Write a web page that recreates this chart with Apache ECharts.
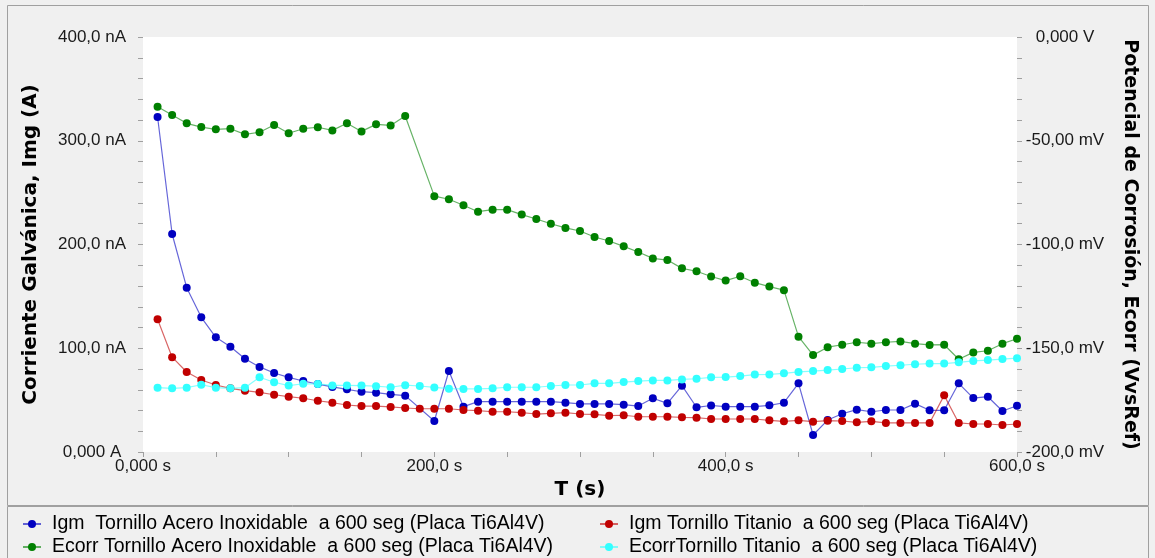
<!DOCTYPE html>
<html>
<head>
<meta charset="utf-8">
<script src="https://cdn.jsdelivr.net/npm/echarts@6/dist/echarts.min.js"></script>
<style>
  html, body { margin: 0; padding: 0; background: #f0f0f0; }
  #chart { width: 1155px; height: 558px; }
</style>
</head>
<body>
<div id="chart"></div>
<script>
// tiempos (s); las series de acero no tienen el punto de 190 s
var tAcero = [10, 20, 30, 40, 50, 60, 70, 80, 90, 100, 110, 120, 130, 140, 150, 160, 170, 180,
  200, 210, 220, 230, 240, 250, 260, 270, 280, 290, 300, 310, 320, 330, 340, 350, 360, 370, 380, 390,
  400, 410, 420, 430, 440, 450, 460, 470, 480, 490, 500, 510, 520, 530, 540, 550, 560, 570, 580, 590, 600];
var tTitanio = [10, 20, 30, 40, 50, 60, 70, 80, 90, 100, 110, 120, 130, 140, 150, 160, 170, 180, 190,
  200, 210, 220, 230, 240, 250, 260, 270, 280, 290, 300, 310, 320, 330, 340, 350, 360, 370, 380, 390,
  400, 410, 420, 430, 440, 450, 460, 470, 480, 490, 500, 510, 520, 530, 540, 550, 560, 570, 580, 590, 600];

// Igm (nA)
var igmAcero = [322.9, 210.1, 158.4, 129.8, 110.5, 101.5, 89.8, 82.0, 76.1, 72.0, 68.4, 65.5, 62.7, 60.4, 58.1, 57.2, 55.6, 54.3,
  29.9, 78.1, 43.7, 48.5, 48.5, 48.5, 48.5, 48.5, 48.5, 47.5, 46.3, 46.3, 46.3, 45.6, 44.3, 51.8, 46.9, 63.9, 43.1, 44.8,
  43.7, 43.7, 43.7, 45.0, 47.5, 66.2, 16.4, 30.8, 36.9, 40.8, 38.8, 40.5, 40.5, 46.6, 40.2, 40.2, 66.2, 52.0, 53.3, 39.5, 44.6];
var igmTitanio = [128.0, 91.4, 77.1, 69.4, 64.6, 61.4, 59.1, 57.5, 55.2, 53.3, 51.8, 49.4, 47.5, 45.3, 44.3, 44.3, 43.4, 42.4, 41.7,
  41.7, 41.7, 40.5, 39.8, 38.8, 38.8, 37.9, 36.6, 37.3, 37.9, 36.6, 36.3, 35.0, 35.4, 34.0, 34.0, 34.0, 33.4, 33.1, 31.8,
  31.8, 31.8, 31.8, 30.5, 29.6, 30.5, 29.2, 30.2, 29.9, 28.6, 29.6, 28.0, 28.0, 28.0, 28.0, 54.6, 28.0, 27.0, 27.0, 26.0, 27.0];

// Ecorr (mV)
var ecorrAcero = [-33.6, -37.6, -41.6, -43.4, -44.5, -44.2, -46.9, -45.9, -42.4, -46.4, -44.2, -43.5, -45.0, -41.6, -45.5, -42.1, -42.6, -38.1,
  -76.7, -78.2, -81.1, -84.2, -83.2, -83.2, -85.6, -87.7, -90.0, -92.0, -93.5, -96.4, -98.3, -100.9, -103.6, -106.7, -107.5, -111.5, -112.9, -115.4,
  -117.4, -115.3, -118.4, -120.3, -122.0, -144.4, -153.3, -149.5, -148.3, -147.1, -147.8, -147.1, -146.7, -147.8, -148.4, -148.3, -155.3, -152.0, -151.2, -147.8, -145.4];
var ecorrTitanio = [-169.0, -169.3, -169.0, -167.6, -169.0, -169.3, -169.0, -164.0, -166.4, -168.0, -167.1, -167.2, -167.9, -167.9, -168.0, -168.3, -168.8, -167.8, -168.2,
  -168.9, -169.5, -169.6, -169.6, -169.3, -168.8, -168.8, -168.8, -168.2, -167.7, -167.7, -166.9, -166.9, -166.3, -165.8, -165.5, -165.5, -165.0, -164.7, -164.0,
  -163.9, -163.4, -162.7, -162.6, -162.1, -161.4, -161.0, -160.5, -160.0, -159.4, -159.2, -158.6, -158.2, -157.7, -157.4, -157.4, -156.8, -156.1, -155.7, -155.2, -154.8];

var xLabels = ["0,000 s", "200,0 s", "400,0 s", "600,0 s"];
var igmLabels = ["0,000 A", "100,0 nA", "200,0 nA", "300,0 nA", "400,0 nA"];
var ecorrLabels = ["-200,0 mV", "-150,0 mV", "-100,0 mV", "-50,00 mV", "0,000 V"];

var names = [
  "Igm  Tornillo Acero Inoxidable  a 600 seg (Placa Ti6Al4V)",
  "Ecorr Tornillo Acero Inoxidable  a 600 seg (Placa Ti6Al4V)",
  "Igm Tornillo Titanio  a 600 seg (Placa Ti6Al4V)",
  "EcorrTornillo Titanio  a 600 seg (Placa Ti6Al4V)"
];

function pairs(t, v) {
  var out = [];
  for (var i = 0; i < t.length; i++) out.push([t[i], v[i]]);
  return out;
}

var font = "Liberation Sans";
var titleFont = { fontFamily: "DejaVu Sans", fontSize: 20, fontWeight: "bold", color: "#000" };
var tickStyle = { color: "#a0a0a0" };

function serie(name, color, yIndex, data, z) {
  return {
    name: name,
    type: "line",
    yAxisIndex: yIndex,
    data: data,
    symbol: "circle",
    symbolSize: 8,
    z: z,
    animation: false,
    itemStyle: { color: color },
    lineStyle: { color: color, width: 1.2, opacity: 0.6 }
  };
}

function leyenda(name, left, top) {
  return {
    orient: "horizontal", left: left, top: top, padding: 0,
    itemWidth: 18, itemHeight: 10,
    textStyle: { fontFamily: font, fontSize: 19.5, color: "#000", padding: [0, 0, 0, 6] },
    data: [name]
  };
}

var myChart = echarts.init(document.getElementById("chart"));
var option = {
  backgroundColor: "#f0f0f0",
  textStyle: { fontFamily: font },
  graphic: [
    { type: "rect", shape: { x: 7.5, y: 5.5, width: 1141, height: 500 }, style: { fill: "none", stroke: "#a0a0a0", lineWidth: 1 } },
    { type: "rect", shape: { x: 7.5, y: 506.5, width: 1141, height: 60 }, style: { fill: "none", stroke: "#a0a0a0", lineWidth: 1 } }
  ],
  grid: {
    left: 143, right: 138, top: 37, bottom: 106,
    show: true, backgroundColor: "#ffffff", borderWidth: 0
  },
  legend: [
    leyenda(names[0], 22, 514),
    leyenda(names[1], 22, 537),
    leyenda(names[2], 599, 514),
    leyenda(names[3], 599, 537)
  ],
  xAxis: {
    type: "value", min: 0, max: 600, interval: 200,
    name: "T (s)", nameLocation: "middle", nameGap: 26,
    nameTextStyle: titleFont,
    axisLine: { show: false },
    axisTick: { show: true, length: 5, lineStyle: tickStyle },
    minorTick: { show: true, splitNumber: 4, length: 5, lineStyle: tickStyle },
    splitLine: { show: false },
    axisLabel: {
      margin: 6, fontSize: 17, color: "#1a1a1a",
      formatter: function (v) { return xLabels[Math.round(v / 200)]; }
    }
  },
  yAxis: [
    {
      type: "value", min: 0, max: 400, interval: 100, position: "left",
      name: "Corriente Galvánica, Img (A)", nameLocation: "middle", nameGap: 102,
      nameTextStyle: titleFont,
      axisLine: { show: false },
      axisTick: { show: true, length: 5, lineStyle: tickStyle },
      minorTick: { show: true, splitNumber: 5, length: 5, lineStyle: tickStyle },
      splitLine: { show: false },
      axisLabel: {
        margin: 51, align: "center", fontSize: 17, color: "#1a1a1a",
        formatter: function (v) { return igmLabels[Math.round(v / 100)]; }
      }
    },
    {
      type: "value", min: -200, max: 0, interval: 50, position: "right",
      name: "Potencial de Corrosión, Ecorr (VvsRef)", nameLocation: "middle", nameGap: 103, nameRotate: -90,
      nameTextStyle: { fontFamily: "DejaVu Sans", fontSize: 19, fontWeight: "bold", color: "#000" },
      axisLine: { show: false },
      axisTick: { show: true, length: 5, lineStyle: tickStyle },
      minorTick: { show: true, splitNumber: 5, length: 5, lineStyle: tickStyle },
      splitLine: { show: false },
      axisLabel: {
        margin: 48, align: "center", fontSize: 17, color: "#1a1a1a",
        formatter: function (v) { return ecorrLabels[Math.round((v + 200) / 50)]; }
      }
    }
  ],
  series: [
    serie(names[0], "#0000c0", 0, pairs(tAcero, igmAcero), 2),
    serie(names[1], "#008000", 1, pairs(tAcero, ecorrAcero), 3),
    serie(names[2], "#c00000", 0, pairs(tTitanio, igmTitanio), 4),
    serie(names[3], "#33ffff", 1, pairs(tTitanio, ecorrTitanio), 5)
  ]
};
myChart.setOption(option);
</script>
</body>
</html>
